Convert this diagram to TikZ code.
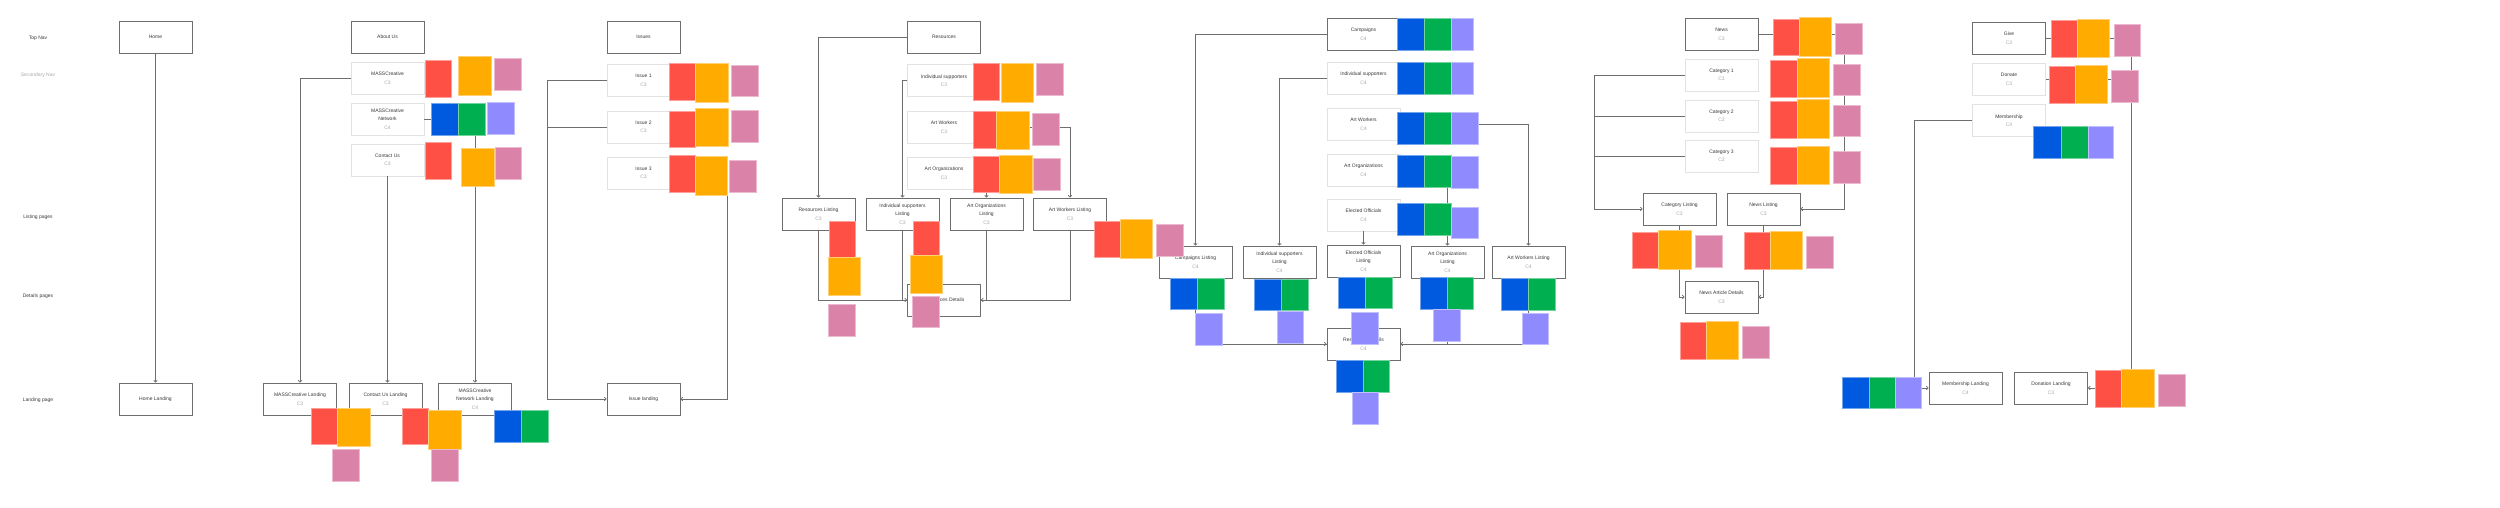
\documentclass[tikz,border=0pt]{standalone}
\usepackage{fontspec}
\setmainfont{Liberation Sans}
\usetikzlibrary{arrows.meta}
\definecolor{edge}{HTML}{6E6E6E}
\definecolor{rim}{HTML}{E2E2E2}
\definecolor{ink}{HTML}{3A3A3A}
\definecolor{muted}{HTML}{A8A8A8}
\definecolor{coral}{HTML}{FF5045}
\definecolor{amber}{HTML}{FFAB00}
\definecolor{rose}{HTML}{DA82A8}
\definecolor{azure}{HTML}{005AE0}
\definecolor{leaf}{HTML}{00B050}
\definecolor{lilac}{HTML}{908AFF}
\newcommand{\ctag}[1]{{\color{muted}#1}}

\begin{document}
\begin{tikzpicture}[x=1pt,y=-1pt,
  page/.style={draw=edge,fill=white,line width=.9pt,minimum width=73pt,minimum height=32pt,inner sep=1pt,align=center,text=ink,font=\fontsize{5}{8.5}\selectfont},
  sub/.style={page,draw=rim},
  tier/.style={text=ink,font=\fontsize{5}{6}\selectfont},
  link/.style={draw=edge,line width=.8pt},
  arr/.style={link,-{To[length=2.5pt,width=4pt]}},
  tile/.style={fill=#1,draw=#1!55!white,line width=.6pt}]
\useasboundingbox (0,0) rectangle (2500,507);
\node[tier] (ltop) at (38,38){Top Nav};
\node[tier,text=muted] (lsec) at (38,75){Secondary Nav};
\node[tier] (llist) at (38,217){Listing pages};
\node[tier] (ldet) at (38,296){Details pages};
\node[tier] (lland) at (38,400){Landing page};
\node[page] (home) at (155.5,37){Home};
\node[page] (homeL) at (155.5,399){Home Landing};
\node[page] (about) at (387.5,37){About Us};
\node[sub] (mass) at (387.5,78){MASSCreative\\\ctag{C3}};
\node[sub] (net) at (387.5,119){MASSCreative\\Network\\\ctag{C4}};
\node[sub] (contact) at (387.5,160){Contact Us\\\ctag{C3}};
\node[page] (massL) at (300,399){MASSCreative Landing\\\ctag{C3}};
\node[page] (contactL) at (385.5,399){Contact Us Landing\\\ctag{C3}};
\node[page] (netL) at (475,399){MASSCreative\\Network Landing\\\ctag{C4}};
\node[page] (issues) at (643.5,37){Issues};
\node[sub] (iss1) at (643.5,80.5){Issue 1\\\ctag{C3}};
\node[sub] (iss2) at (643.5,127){Issue 2\\\ctag{C3}};
\node[sub] (iss3) at (643.5,173){Issue 3\\\ctag{C3}};
\node[page] (issL) at (643.5,399){Issue landing};
\node[page] (res) at (944,37){Resources};
\node[sub] (rind) at (944,80.5){Individual supporters\\\ctag{C3}};
\node[sub] (rwork) at (944,127){Art Workers\\\ctag{C3}};
\node[sub] (rorg) at (944,173){Art Organizations\\\ctag{C3}};
\node[page] (rlist) at (818.5,214){Resources Listing\\\ctag{C3}};
\node[page] (rindL) at (902.5,214){Individual supporters\\Listing\\\ctag{C3}};
\node[page] (rorgL) at (986.5,214){Art Organizations\\Listing\\\ctag{C3}};
\node[page] (rworkL) at (1070,214){Art Workers Listing\\\ctag{C3}};
\node[page] (rdet) at (944,300){Resources Details};
\node[page] (camp) at (1363.5,34){Campaigns\\\ctag{C4}};
\node[sub] (cind) at (1363.5,78){Individual supporters\\\ctag{C4}};
\node[sub] (cwork) at (1363.5,124){Art Workers\\\ctag{C4}};
\node[sub] (corg) at (1363.5,170){Art Organizations\\\ctag{C4}};
\node[sub] (celect) at (1363.5,215){Elected Officials\\\ctag{C4}};
\node[page] (campL) at (1195.5,262){Campaigns Listing\\\ctag{C4}};
\node[page] (cindL) at (1279.5,262){Individual supporters\\Listing\\\ctag{C4}};
\node[page] (celectL) at (1363.5,261){Elected Officials\\Listing\\\ctag{C4}};
\node[page] (corgL) at (1447.5,262){Art Organizations\\Listing\\\ctag{C4}};
\node[page] (cworkL) at (1528.5,262){Art Workers Listing\\\ctag{C4}};
\node[page] (cdet) at (1363.5,344){Resources Details\\\ctag{C4}};
\node[page] (news) at (1721.5,34.5){News\\\ctag{C3}};
\node[sub] (cat1) at (1721.5,75){Category 1\\\ctag{C3}};
\node[sub] (cat2) at (1721.5,116){Category 2\\\ctag{C3}};
\node[sub] (cat3) at (1721.5,156){Category 3\\\ctag{C3}};
\node[page] (catL) at (1679.5,209){Category Listing\\\ctag{C3}};
\node[page] (newsL) at (1763.5,209){News Listing\\\ctag{C3}};
\node[page] (art) at (1721.5,297){News Article Details\\\ctag{C3}};
\node[page] (give) at (2009,38){Give\\\ctag{C3}};
\node[sub] (donate) at (2009,79.5){Donate\\\ctag{C3}};
\node[sub] (member) at (2009,120.5){Membership\\\ctag{C4}};
\node[page] (memberL) at (1965.5,388){Membership Landing\\\ctag{C4}};
\node[page] (donateL) at (2051,388){Donation Landing\\\ctag{C3}};
\draw[arr] (home)--(homeL);
\draw[arr] (mass.west) -| (massL.north);\draw[arr] (contact.south)--(contact.south |- contactL.north);\draw[arr] (net.east) -| (netL.north);
\draw[arr] (iss1.west) -- ++(-59,0) |- (issL.west);\draw[link] (iss2.west) -- ++(-59,0);\draw[arr] (iss3.east) -- ++(47,0) |- (issL.east);
\draw[arr] (res.west) -| (rlist.north);\draw[arr] (rind.west) -| (rindL.north);\draw[arr] (rwork.east) -| (rworkL.north);\draw[arr] (rorg.east) -| (rorgL.north);
\draw[arr] (rlist.south) |- (rdet.west);\draw[link] (rindL.south) |- (rdet.west);\draw[arr] (rworkL.south) |- (rdet.east);\draw[link] (rorgL.south) |- (rdet.east);
\draw[arr] (camp.west) -| (campL.north);\draw[arr] (cind.west) -| (cindL.north);\draw[arr] (cwork.east) -| (cworkL.north);\draw[arr] (corg.east) -| (corgL.north);\draw[arr] (celect)--(celectL);
\draw[arr] (campL.south) |- (cdet.west);\draw[link] (cindL.south) |- (cdet.west);\draw[arr] (cworkL.south) |- (cdet.east);\draw[link] (corgL.south) |- (cdet.east);
\draw[arr] (cat1.west) -- ++(-90,0) |- (catL.west);\draw[link] (cat2.west) -- ++(-90,0);\draw[link] (cat3.west) -- ++(-90,0);\draw[arr] (news.east) -- ++(86,0) |- (newsL.east);
\draw[arr] (catL.south) |- (art.west);\draw[arr] (newsL.south) |- (art.east);
\draw[arr] (give.east) -- ++(85,0) |- (donateL.east);\draw[link] (donate.east) -- ++(85,0);\draw[arr] (member.west) -- ++(-58,0) |- (memberL.west);
\fill[tile=coral] (425.5,60) rectangle (451,97);\fill[tile=amber] (458.5,56) rectangle (491,95);\fill[tile=rose] (494.5,58) rectangle (521,90);
\fill[tile=azure] (431,103) rectangle (458,135);\fill[tile=leaf] (458,103) rectangle (485,135);\fill[tile=lilac] (487.5,102) rectangle (514.5,134);
\fill[tile=coral] (425.5,142) rectangle (451,179);\fill[tile=amber] (461.5,148) rectangle (494,186);\fill[tile=rose] (495,147) rectangle (521.5,179);
\fill[tile=coral] (311,408) rectangle (337,444);\fill[tile=amber] (337,408) rectangle (370,446);\fill[tile=rose] (332.5,449) rectangle (359.5,481);
\fill[tile=coral] (402.5,408) rectangle (428.5,444);\fill[tile=amber] (428.5,410) rectangle (461,449);\fill[tile=rose] (431,449) rectangle (458,481);
\fill[tile=azure] (494.5,410) rectangle (521,442);\fill[tile=leaf] (521,410) rectangle (548,442);
\fill[tile=coral] (669,63) rectangle (695,100);\fill[tile=amber] (695,63) rectangle (728,102);\fill[tile=rose] (731,65) rectangle (758,96);
\fill[tile=coral] (669,111) rectangle (695,147);\fill[tile=amber] (695,108) rectangle (728,146);\fill[tile=rose] (731,110) rectangle (758,142);
\fill[tile=coral] (669,155) rectangle (695,192);\fill[tile=amber] (695,156) rectangle (727.5,195);\fill[tile=rose] (729,160) rectangle (756,192);
\fill[tile=coral] (973,63) rectangle (999,100);\fill[tile=amber] (1001,63) rectangle (1033,102);\fill[tile=rose] (1036,63) rectangle (1063,95);
\fill[tile=coral] (973,111) rectangle (996,148);\fill[tile=amber] (996,111) rectangle (1029,149);\fill[tile=rose] (1032,113) rectangle (1059,145);
\fill[tile=coral] (973,156) rectangle (999,192);\fill[tile=amber] (999,155) rectangle (1032,193);\fill[tile=rose] (1033,158) rectangle (1060,190);
\fill[tile=coral] (829,221) rectangle (855,257);\fill[tile=amber] (828,257) rectangle (860,295);\fill[tile=rose] (828,304) rectangle (855,336);
\fill[tile=coral] (913,221) rectangle (939,257);\fill[tile=amber] (910,255) rectangle (942,293);\fill[tile=rose] (912,296) rectangle (939,327);
\fill[tile=coral] (1094,221) rectangle (1120,257);\fill[tile=amber] (1120,219) rectangle (1152,258);\fill[tile=rose] (1156,224) rectangle (1183,256);
\fill[tile=azure] (1397,18) rectangle (1424,50);\fill[tile=leaf] (1424,18) rectangle (1451,50);\fill[tile=lilac] (1451,18) rectangle (1473,50);
\fill[tile=azure] (1397,62) rectangle (1424,94);\fill[tile=leaf] (1424,62) rectangle (1451,94);\fill[tile=lilac] (1451,62) rectangle (1473,94);
\fill[tile=azure] (1397,112) rectangle (1424,144);\fill[tile=leaf] (1424,112) rectangle (1451,144);\fill[tile=lilac] (1451,112) rectangle (1478,144);
\fill[tile=azure] (1397,155) rectangle (1424,187);\fill[tile=leaf] (1424,155) rectangle (1451,187);\fill[tile=lilac] (1451,156) rectangle (1478,188);
\fill[tile=azure] (1397,203) rectangle (1424,235);\fill[tile=leaf] (1424,203) rectangle (1451,235);\fill[tile=lilac] (1451,207) rectangle (1478,238);
\fill[tile=azure] (1170,278) rectangle (1197,309);\fill[tile=leaf] (1197,278) rectangle (1224,309);\fill[tile=lilac] (1195,313) rectangle (1222,345);
\fill[tile=azure] (1254,279) rectangle (1281,310);\fill[tile=leaf] (1281,279) rectangle (1308,310);\fill[tile=lilac] (1277,311) rectangle (1303,343);
\fill[tile=azure] (1338,277) rectangle (1365,308);\fill[tile=leaf] (1365,277) rectangle (1392,308);\fill[tile=lilac] (1351,312) rectangle (1378,344);
\fill[tile=azure] (1420,277) rectangle (1447,309);\fill[tile=leaf] (1447,277) rectangle (1473,309);\fill[tile=lilac] (1433,309) rectangle (1460,341);
\fill[tile=azure] (1501,278) rectangle (1528,310);\fill[tile=leaf] (1528,278) rectangle (1555,310);\fill[tile=lilac] (1522,313) rectangle (1548,344);
\fill[tile=azure] (1336,360) rectangle (1363,392);\fill[tile=leaf] (1363,360) rectangle (1389,392);\fill[tile=lilac] (1352,392) rectangle (1378,424);
\fill[tile=coral] (1773,19) rectangle (1799,55);\fill[tile=amber] (1799,17) rectangle (1831,56);\fill[tile=rose] (1835,23) rectangle (1862,54);
\fill[tile=coral] (1770,60) rectangle (1797,97);\fill[tile=amber] (1797,58) rectangle (1829,97);\fill[tile=rose] (1833,64) rectangle (1860,95);
\fill[tile=coral] (1770,101) rectangle (1797,138);\fill[tile=amber] (1797,99) rectangle (1829,138);\fill[tile=rose] (1833,105) rectangle (1860,136);
\fill[tile=coral] (1770,147) rectangle (1797,184);\fill[tile=amber] (1797,146) rectangle (1829,184);\fill[tile=rose] (1833,151) rectangle (1860,183);
\fill[tile=coral] (1632,232) rectangle (1658,268);\fill[tile=amber] (1658,230) rectangle (1691,269);\fill[tile=rose] (1695,235) rectangle (1722,267);
\fill[tile=coral] (1744,232) rectangle (1770,269);\fill[tile=amber] (1770,231) rectangle (1802,269);\fill[tile=rose] (1806,236) rectangle (1833,268);
\fill[tile=coral] (1680,322) rectangle (1706,359);\fill[tile=amber] (1706,321) rectangle (1738,359);\fill[tile=rose] (1742,326) rectangle (1769,358);
\fill[tile=coral] (2051,20) rectangle (2077,57);\fill[tile=amber] (2077,19) rectangle (2109.5,57);\fill[tile=rose] (2114,24) rectangle (2140.5,56);
\fill[tile=coral] (2049,66) rectangle (2075,103);\fill[tile=amber] (2075,65) rectangle (2107.5,103);\fill[tile=rose] (2111,70) rectangle (2138.5,102);
\fill[tile=azure] (2033.5,126) rectangle (2061,158);\fill[tile=leaf] (2061,126) rectangle (2088,158);\fill[tile=lilac] (2088,126) rectangle (2113.5,158);
\fill[tile=azure] (1842,377) rectangle (1869,408);\fill[tile=leaf] (1869,377) rectangle (1895,408);\fill[tile=lilac] (1895,377) rectangle (1921,408);
\fill[tile=coral] (2095.5,370) rectangle (2121.5,407);\fill[tile=amber] (2121.5,369) rectangle (2154.5,407);\fill[tile=rose] (2158,374) rectangle (2185,406);
\end{tikzpicture}
\end{document}
